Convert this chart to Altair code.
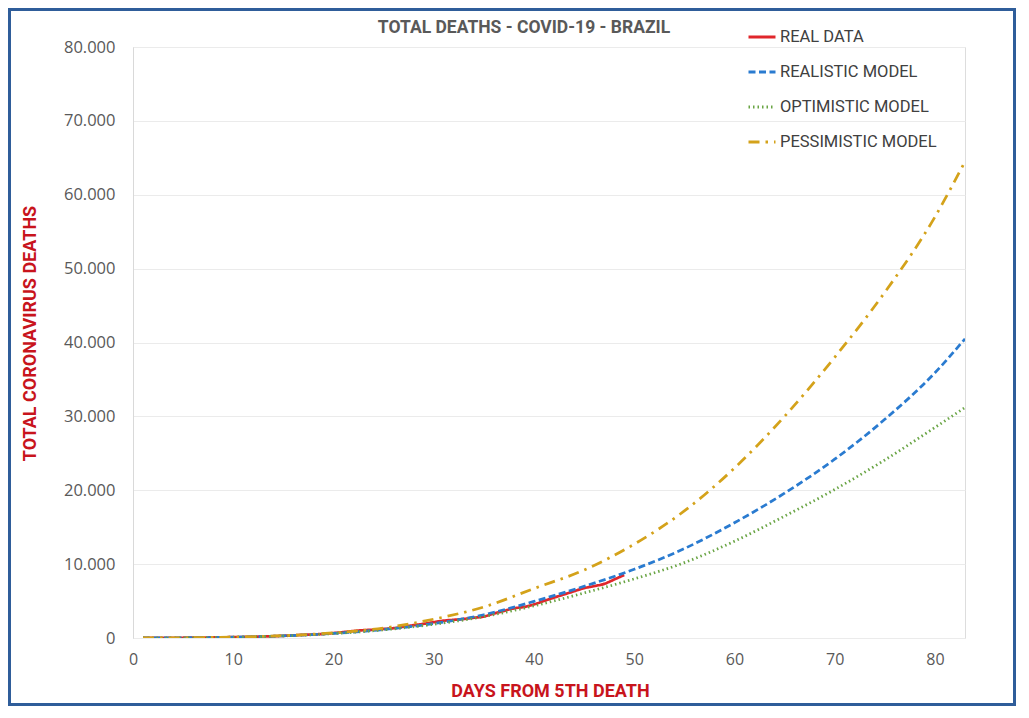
import altair as alt
import pandas as pd

# ---- data ----
real_days = list(range(1, 50))
real_deaths = [7, 11, 18, 25, 34, 46, 57, 77, 92, 114,
               136, 159, 201, 241, 299, 359, 431, 486, 553, 667,
               800, 941, 1056, 1124, 1223, 1328, 1532, 1736, 1924, 2141,
               2347, 2462, 2575, 2741, 2906, 3313, 3670, 4016, 4205, 4543,
               5017, 5466, 5901, 6329, 6750, 7025, 7321, 7921, 8536]

model_days = [1, 5, 10, 15, 20, 25, 30, 35, 40, 45, 50, 55, 60, 65, 70, 75, 80, 83]
realistic = [5, 25, 110, 290, 620, 1150, 1950, 3150, 4950, 7000, 9300, 12100,
             15600, 19600, 24200, 29600, 35900, 40500]
optimistic = [5, 25, 110, 280, 600, 1100, 1850, 2900, 4350, 6100, 8000, 10200,
              13100, 16500, 20100, 24100, 28500, 31200]
pessimistic = [5, 30, 120, 320, 700, 1350, 2550, 4200, 6700, 9200, 12700, 17200,
               23000, 30000, 38000, 46800, 57000, 64500]

series_order = ["REAL DATA", "REALISTIC MODEL", "OPTIMISTIC MODEL", "PESSIMISTIC MODEL"]
colors = ["#E0262B", "#2A7BD0", "#6AA545", "#D4A21A"]
dashes = [[1, 0], [7, 3.5], [1.5, 3], [11, 6, 2.5, 6]]

x_ticks = [0, 10, 20, 30, 40, 50, 60, 70, 80]
y_ticks = [0, 10000, 20000, 30000, 40000, 50000, 60000, 70000, 80000]

chart_title = "TOTAL DEATHS - COVID-19 - BRAZIL"

rows = []
for d, v in zip(real_days, real_deaths):
    rows.append({"day": d, "deaths": v, "series": "REAL DATA", "k": 0})
for name, vals, k in [("REALISTIC MODEL", realistic, 1),
                      ("OPTIMISTIC MODEL", optimistic, 2),
                      ("PESSIMISTIC MODEL", pessimistic, 3)]:
    for d, v in zip(model_days, vals):
        rows.append({"day": d, "deaths": v, "series": name, "k": k})
df = pd.DataFrame(rows)

W, H = 832, 591
PL, PT, PR, PB = 125, 39, 51, 68

FONT = "Roboto, sans-serif"
RED = "#C8141C"

legend_props = dict(
    title=None, orient="none", legendX=614, legendY=-25,
    symbolType="stroke", symbolSize=729, symbolStrokeWidth=3,
    labelFont=FONT, labelFontSize=16.5, labelColor="#404040",
    labelOffset=3, rowPadding=11, padding=0, labelLimit=300,
)

lines = alt.Chart(df).mark_line(strokeWidth=2.75, interpolate="monotone", clip=True).encode(
    x=alt.X("day:Q",
            scale=alt.Scale(domain=[0, 83], nice=False, zero=False),
            axis=alt.Axis(values=x_ticks, grid=False, domain=False, ticks=False,
                          labelFlush=False,
                          labelPadding=13, labelFont="Open Sans", labelFontSize=16,
                          labelColor="#595959",
                          title="DAYS FROM 5TH DEATH", titleFont=FONT,
                          titleFontSize=18, titleFontWeight="bold", titleColor=RED,
                          titleX=417, titleY=53, titleBaseline="middle",
                          titleAlign="center")),
    y=alt.Y("deaths:Q",
            scale=alt.Scale(domain=[0, 80000], nice=False),
            axis=alt.Axis(values=y_ticks, grid=True, gridColor="#EBEBEB",
                          domain=True, domainColor="#D9D9D9", ticks=False,
                          labelFlush=False,
                          labelPadding=18, labelFont="Open Sans", labelFontSize=16.5,
                          labelColor="#595959",
                          labelExpr="datum.value == 0 ? '0' : format(datum.value / 1000, 'd') + '.000'",
                          title="TOTAL CORONAVIRUS DEATHS", titleFont=FONT,
                          titleFontSize=18, titleFontWeight="bold", titleColor=RED,
                          titleX=-103, titleY=286, titleBaseline="middle",
                          titleAlign="center", titleAngle=-90)),
    color=alt.Color("series:N",
                    scale=alt.Scale(domain=series_order, range=colors),
                    legend=alt.Legend(**legend_props)),
    strokeDash=alt.StrokeDash("series:N",
                              scale=alt.Scale(domain=series_order, range=dashes),
                              legend=alt.Legend(**legend_props)),
    order=alt.Order("k:Q"),
)

title_mark = alt.Chart(pd.DataFrame({"t": [chart_title]})).mark_text(
    font=FONT, fontSize=17.5, fontWeight="bold", color="#595959",
    align="center", baseline="middle"
).encode(
    x=alt.value(391), y=alt.value(-19), text="t:N"
)

border = alt.Chart(pd.DataFrame({"b": [0]})).mark_rect(
    fill=None, stroke="#2F5D9A", strokeWidth=3
).encode(
    x=alt.value(-PL + 1.5), x2=alt.value(W + PR - 1.5),
    y=alt.value(-PT + 1.5), y2=alt.value(H + PB - 1.5),
)

chart = alt.layer(lines, title_mark, border).properties(
    width=W, height=H,
    padding={"left": PL, "top": PT, "right": PR, "bottom": PB},
    autosize=alt.AutoSizeParams(type="none"),
).configure_view(
    stroke=None
).configure(background="white")

chart.save("out.html", embed_options={"renderer": "svg", "actions": False})
